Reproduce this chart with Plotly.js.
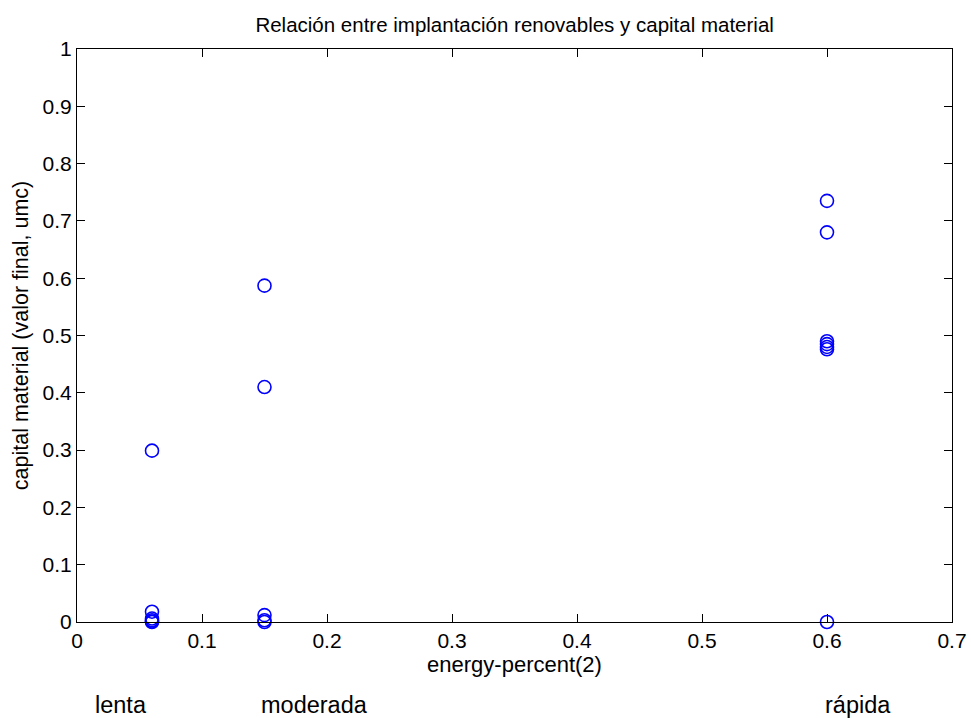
<!DOCTYPE html>
<html>
<head>
<meta charset="utf-8">
<script src="https://cdn.plot.ly/plotly-3.0.1.min.js"></script>
<style>html,body{margin:0;padding:0;background:#fff;}#chart{width:971px;height:718px;}</style>
</head>
<body>
<div id="chart"></div>
<script>
const energyPercent = [0.06, 0.06, 0.06, 0.06, 0.06, 0.06,
                       0.15, 0.15, 0.15, 0.15, 0.15,
                       0.6, 0.6, 0.6, 0.6, 0.6, 0.6, 0.6];
const capitalMaterial = [0.299, 0.018, 0.006, 0.003, 0.001, 0.0,
                         0.587, 0.410, 0.012, 0.003, 0.0,
                         0.735, 0.680, 0.490, 0.485, 0.480, 0.476, 0.0];
const xTicks = [0, 0.1, 0.2, 0.3, 0.4, 0.5, 0.6, 0.7];
const yTicks = [0, 0.1, 0.2, 0.3, 0.4, 0.5, 0.6, 0.7, 0.8, 0.9, 1];
const scenarioLabels = ["lenta", "moderada", "rápida"];
const scenarioX = [0.035, 0.19, 0.625];

const fam = "'Liberation Sans', Arial, sans-serif";
const tickFont = {family: fam, size: 21, color: "#000"};

const trace = {
  x: energyPercent, y: capitalMaterial, type: "scatter", mode: "markers",
  marker: {symbol: "circle-open", size: 13, color: "#0000ff", line: {width: 1.6, color: "#0000ff"}},
  hoverinfo: "x+y", cliponaxis: false
};

const axisCommon = {
  showline: true, linecolor: "#000", linewidth: 1, mirror: "ticks",
  ticks: "inside", ticklen: 8, tickwidth: 1, tickcolor: "#000",
  showgrid: false, zeroline: false, tickfont: tickFont
};

const layout = {
  width: 971, height: 718,
  margin: {l: 77, r: 19, t: 49, b: 96},
  paper_bgcolor: "#fff", plot_bgcolor: "#fff",
  font: tickFont, showlegend: false,
  title: {text: "Relación entre implantación renovables y capital material",
          font: {family: fam, size: 20.5, color: "#000"},
          x: 0.53, xanchor: "center", y: 0.965, yanchor: "middle"},
  xaxis: Object.assign({}, axisCommon, {
    range: [0, 0.7], tickvals: xTicks, ticktext: xTicks.map(String),
    title: {text: "energy-percent(2)", font: {family: fam, size: 22, color: "#000"}, standoff: 0}
  }),
  yaxis: Object.assign({}, axisCommon, {
    range: [0, 1], tickvals: yTicks, ticktext: yTicks.map(String),
    title: {text: "capital material (valor final, umc)", font: {family: fam, size: 21.5, color: "#000"}, standoff: 8}
  }),
  annotations: scenarioLabels.map((t, i) => ({
    text: t, x: scenarioX[i], xref: "x", y: -0.145, yref: "paper",
    showarrow: false, font: {family: fam, size: 23.5, color: "#000"},
    xanchor: "center", yanchor: "middle"
  }))
};

Plotly.newPlot("chart", [trace], layout, {displayModeBar: false, staticPlot: true});
</script>
</body>
</html>
